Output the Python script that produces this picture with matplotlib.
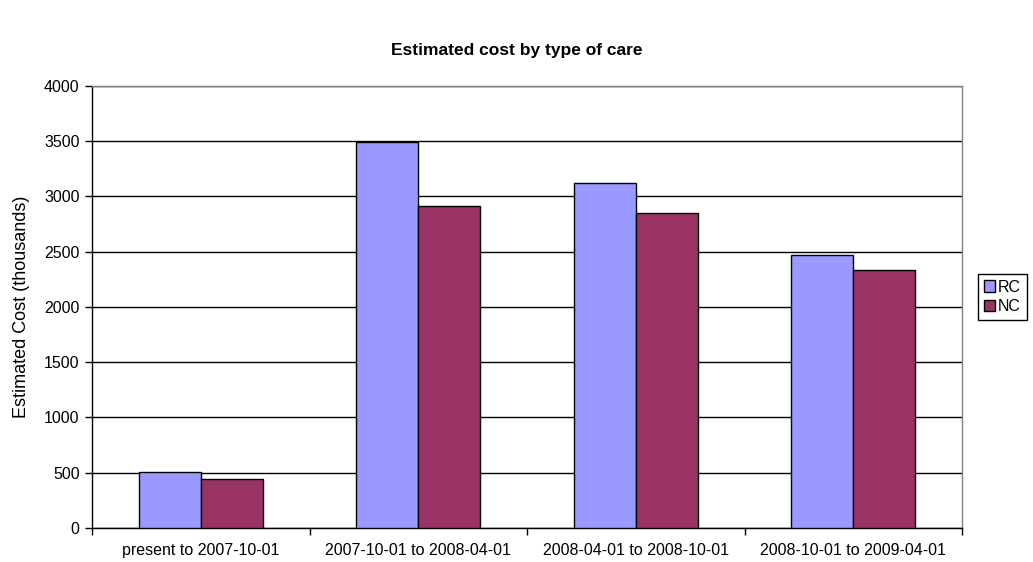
import numpy as np
import matplotlib.pyplot as plt
from matplotlib.ticker import FixedLocator, NullFormatter

plt.rcParams['font.family'] = ['Liberation Sans', 'DejaVu Sans']

periods = ['present to 2007-10-01', '2007-10-01 to 2008-04-01',
           '2008-04-01 to 2008-10-01', '2008-10-01 to 2009-04-01']
rc_cost = [510, 3490, 3125, 2470]
nc_cost = [440, 2915, 2850, 2335]

rc_color = '#9999FF'
nc_color = '#993366'

fig = plt.figure(figsize=(10.33, 5.62), dpi=100)
ax = fig.add_axes([0.0891, 0.0605, 0.8422, 0.7865])

x = np.arange(len(periods))
w = 1 / 3.5  # excel-style gap width of 150%

ax.bar(x - w / 2, rc_cost, w, color=rc_color, edgecolor='black', linewidth=1, label='RC', zorder=3)
ax.bar(x + w / 2, nc_cost, w, color=nc_color, edgecolor='black', linewidth=1, label='NC', zorder=3)

ax.set_xlim(-0.5, len(periods) - 0.5)
ax.set_ylim(0, 4000)
ax.set_yticks(np.arange(0, 4001, 500))
ax.yaxis.grid(True, color='black', linewidth=1, zorder=0)

# category labels sit between the boundary ticks
ax.xaxis.set_major_locator(FixedLocator(np.arange(-0.5, len(periods), 1.0)))
ax.xaxis.set_major_formatter(NullFormatter())
ax.xaxis.set_minor_locator(FixedLocator(x))
ax.set_xticklabels(periods, minor=True)
ax.tick_params(axis='x', which='minor', length=0, labelsize=11.5, pad=11)
ax.tick_params(axis='x', which='major', length=5, width=1, direction='out')
ax.tick_params(axis='y', length=5, width=1, direction='out', labelsize=11.5, pad=4)

for side in ['top', 'right']:
    ax.spines[side].set_color('#808080')
    ax.spines[side].set_linewidth(1)
for side in ['left', 'bottom']:
    ax.spines[side].set_color('black')
    ax.spines[side].set_linewidth(1)

ax.set_ylabel('Estimated Cost (thousands)', fontsize=13, labelpad=10)
fig.suptitle('Estimated cost by type of care', fontsize=12.5, fontweight='bold',
             y=1 - 50 / 562, va='center')

fig.legend(loc='upper left', bbox_to_anchor=(978 / 1033, 1 - 274 / 562), fontsize=11.5,
           frameon=True, fancybox=False, edgecolor='black', framealpha=1,
           handlelength=0.7, handleheight=0.7, handletextpad=0.2, borderpad=0.35,
           labelspacing=0.3, borderaxespad=0)

fig.savefig('out.png', dpi=100)
